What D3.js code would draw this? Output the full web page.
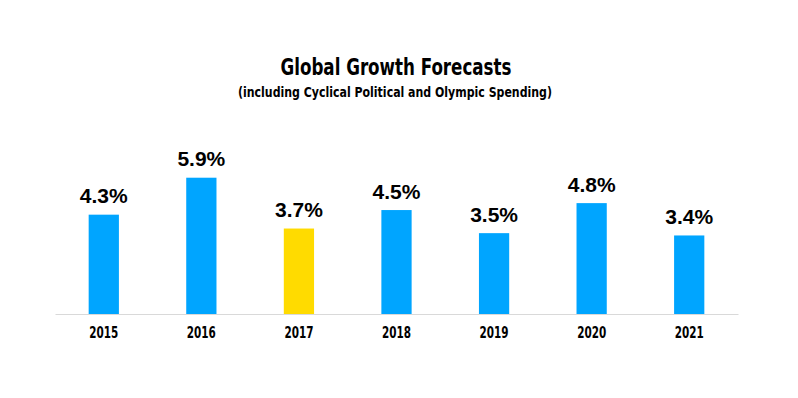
<!DOCTYPE html>
<html>
<head>
<meta charset="utf-8">
<script src="https://cdn.jsdelivr.net/npm/d3@7"></script>
<style>
  body { margin: 0; background: #fff; }
  .title { font-family: "DejaVu Sans Condensed", "DejaVu Sans", sans-serif; font-weight: bold; }
  .val { font-family: "Liberation Sans", Arial, sans-serif; font-weight: bold; }
  .year { font-family: "DejaVu Sans Condensed", "DejaVu Sans", sans-serif; font-weight: bold; }
</style>
</head>
<body>
<svg></svg>
<script>
// chart data
var years = ["2015", "2016", "2017", "2018", "2019", "2020", "2021"];
var growth = [4.3, 5.9, 3.7, 4.5, 3.5, 4.8, 3.4];
var highlightYear = "2017";

var width = 798, height = 398;
var svg = d3.select("svg").attr("width", width).attr("height", height);

var x = d3.scaleBand()
    .domain(years)
    .range([55, 738])
    .paddingInner(0.69)
    .paddingOuter(0.345);

var y = d3.scaleLinear()
    .domain([0, 6])
    .range([314, 175.4]);

// titles - squeezed to look like the condensed face in the original
svg.append("text")
    .attr("class", "title")
    .attr("x", 396).attr("y", 75)
    .attr("text-anchor", "middle")
    .attr("textLength", 231)
    .attr("lengthAdjust", "spacingAndGlyphs")
    .style("font-size", "23px")
    .text("Global Growth Forecasts");

svg.append("text")
    .attr("class", "title")
    .attr("x", 395).attr("y", 97)
    .attr("text-anchor", "middle")
    .attr("textLength", 314)
    .attr("lengthAdjust", "spacingAndGlyphs")
    .style("font-size", "14.5px")
    .text("(including Cyclical Political and Olympic Spending)");

// bars
svg.append("g")
    .selectAll("rect")
    .data(years)
    .enter().append("rect")
    .attr("x", function(d) { return x(d); })
    .attr("width", x.bandwidth())
    .attr("y", function(d, i) { return y(growth[i]); })
    .attr("height", function(d, i) { return y(0) - y(growth[i]); })
    .attr("fill", function(d) { return d === highlightYear ? "#ffdb00" : "#00a5ff"; });

// value labels
svg.append("g")
    .selectAll("text")
    .data(years)
    .enter().append("text")
    .attr("class", "val")
    .attr("x", function(d) { return x(d) + x.bandwidth() / 2; })
    .attr("y", function(d, i) { return y(growth[i]) - 11.5; })
    .attr("text-anchor", "middle")
    .style("font-size", "21px")
    .text(function(d, i) { return growth[i].toFixed(1) + "%"; });

// x axis
var axis = svg.append("g")
    .attr("transform", "translate(0,314)")
    .call(d3.axisBottom(x).tickSize(0).tickPadding(13));

axis.select(".domain").attr("stroke", "#d9d9d9").attr("stroke-width", 1);
axis.selectAll("text")
    .attr("class", "year")
    .attr("fill", "#000")
    .attr("textLength", 29)
    .attr("lengthAdjust", "spacingAndGlyphs")
    .style("font-size", "15px");
</script>
</body>
</html>
